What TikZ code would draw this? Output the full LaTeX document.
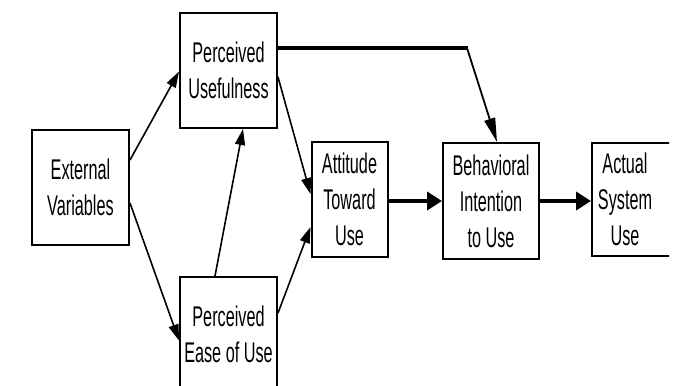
\documentclass[tikz,border=0pt]{standalone}
\usepackage{fontspec}
\setmainfont{Liberation Sans}[FakeStretch=0.57]
\usetikzlibrary{arrows.meta}

\begin{document}
\begin{tikzpicture}[x=1pt,y=-1pt,
  txt/.style={align=center,font=\fontsize{28.5}{36}\selectfont},
  box/.style={draw,line width=2pt,inner sep=0pt,txt,minimum width=97pt,minimum height=115pt},
  thin arrow/.style={line width=1.6pt,-{Triangle[length=16pt,width=10pt]}},
  thick arrow/.style={line width=4pt,-{Triangle[length=15pt,width=18pt]}}]
\useasboundingbox (0,0) rectangle (681,386);
\begin{scope}
\clip (0,0) rectangle (669,386);
\node [box] (EV) at (80.5,187) {External\\Variables}; %external variables
\node [box] (PU) at (228.5,70.5) {Perceived\\Usefulness}; %usefulness
\node [box] (PEOU) at (228.5,334.5) {Perceived\\Ease of Use}; %ease of use
\node [box,minimum width=76pt] (ATU) at (349.5,199.5) {Attitude\\Toward\\Use}; %attitude
\node [box,minimum width=96pt,minimum height=116pt] (BI) at (491,201) {Behavioral\\Intention\\to Use}; %intention
\node [box,minimum width=84pt,minimum height=113pt,
  label={[txt,xshift=-9pt]center:{Actual\\System\\Use}}] (ASU) at (634,199) {}; %actual use

\draw [thin arrow] ([yshift=27pt]EV.east) -- ([yshift=-1pt]PU.west);
\draw [thin arrow] ([yshift=-16pt]EV.east) -- ([yshift=-6pt]PEOU.west);
\draw [thin arrow] ([xshift=-13.5pt]PEOU.north) -- ([xshift=14.5pt]PU.south);
\draw [thin arrow] ([yshift=-6.5pt]PU.east) -- ([yshift=5.5pt]ATU.west);
\draw [thin arrow] ([yshift=21.5pt]PEOU.east) -- ([yshift=-27.5pt]ATU.west);
\draw [line width=3.5pt] ([yshift=22.5pt]PU.east) -- ++(190,0) coordinate (bend);
\draw [line width=1.8pt,-{Triangle[length=24pt,width=11pt]}] ([xshift=-1pt]bend) -- ([xshift=6pt]BI.north);
\draw [thick arrow] ([yshift=-1.5pt]ATU.east) -- ([yshift=-1.5pt]ATU.east -| BI.west);
\draw [thick arrow] ([yshift=-1.5pt]ATU.east -| BI.east) -- ([yshift=-1.5pt]ATU.east -| ASU.west);
\end{scope}
\end{tikzpicture}
\end{document}
